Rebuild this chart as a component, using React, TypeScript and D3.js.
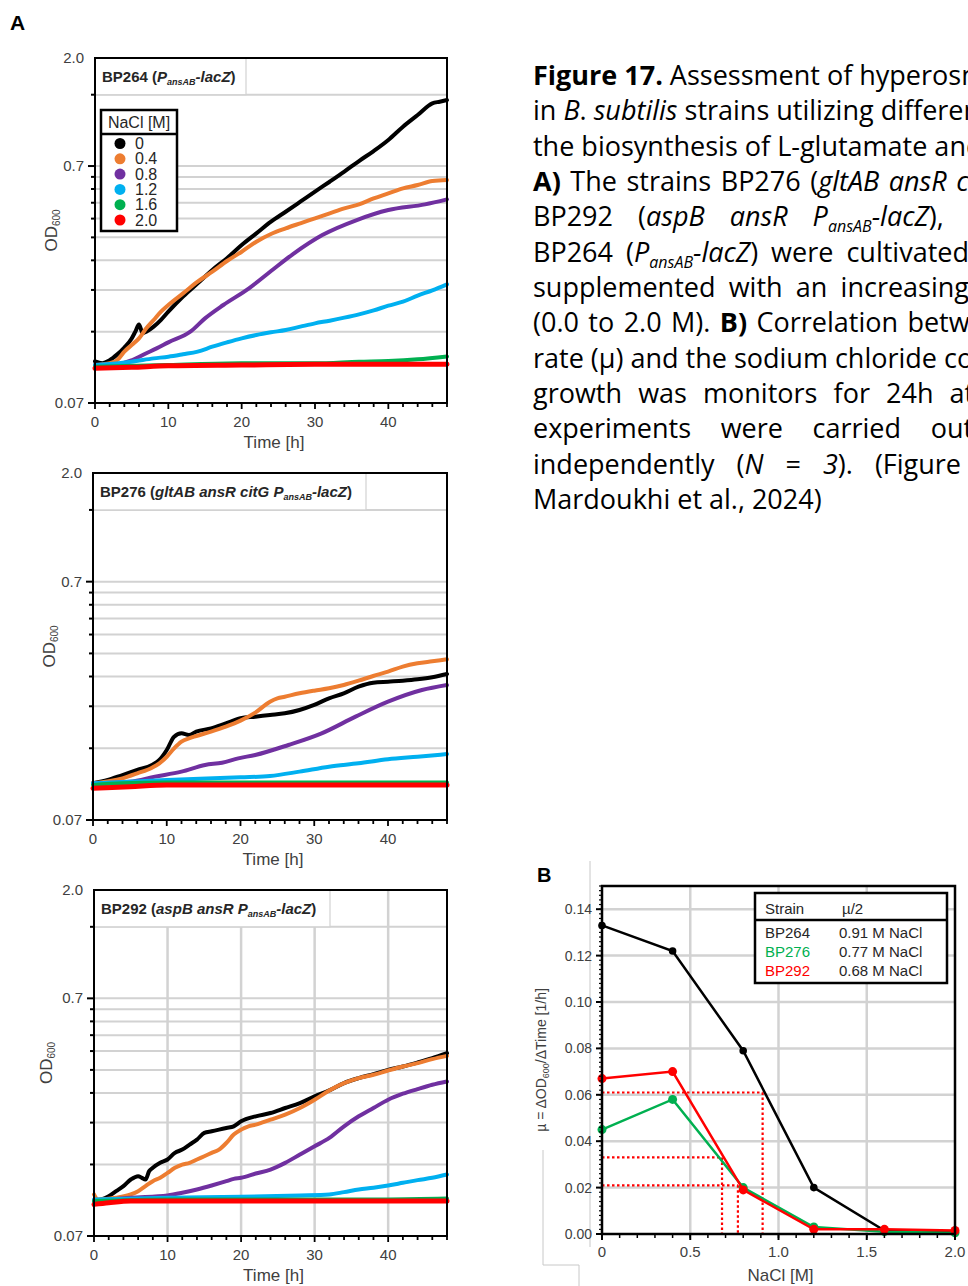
import React from 'react';
import * as d3 from 'd3';

// ---------- shared axis values ----------
const TIME_TICKS = [0, 10, 20, 30, 40];
const OD_LABELS = [0.07, 0.7, 2.0];
const OD_GRID = [0.14, 0.21, 0.28, 0.35, 0.42, 0.49, 0.56, 0.63, 0.7, 1.4];
const NACL_LEVELS = ['0', '0.4', '0.8', '1.2', '1.6', '2.0'];
const SERIES_COLORS = ['#000000', '#ED7D31', '#7030A0', '#00B0F0', '#00B050', '#FF0000'];

// ---------- BP264 growth curves: [time h, OD600] ----------
const bp264_00 = [[0, 0.105], [1, 0.103], [2, 0.106], [3, 0.112], [4, 0.12], [5, 0.131], [5.5, 0.14], [6, 0.15], [6.5, 0.138], [7, 0.14], [8, 0.147], [9, 0.157], [10, 0.17], [12, 0.197], [14, 0.224], [16, 0.255], [18, 0.286], [20, 0.325], [22, 0.364], [24, 0.408], [26, 0.449], [28, 0.495], [30, 0.546], [32, 0.601], [34, 0.663], [36, 0.735], [38, 0.81], [40, 0.902], [42, 1.026], [44, 1.149], [46, 1.287], [47, 1.308], [48, 1.329]];
const bp264_04 = [[0, 0.1012], [2, 0.103], [3, 0.106], [4, 0.1153], [5, 0.123], [6, 0.1312], [7, 0.1446], [8, 0.1568], [9, 0.17], [10, 0.1814], [12, 0.2031], [14, 0.2276], [16, 0.2507], [18, 0.2782], [20, 0.3044], [22, 0.3356], [24, 0.3616], [26, 0.382], [28, 0.4012], [30, 0.4211], [32, 0.4421], [34, 0.4641], [36, 0.4823], [38, 0.5113], [40, 0.5367], [42, 0.5635], [44, 0.5819], [46, 0.6052], [48, 0.611]];
const bp264_08 = [[0, 0.1012], [3, 0.1019], [5, 0.106], [7, 0.1135], [8.4, 0.119], [10, 0.1262], [13, 0.14], [15, 0.1593], [17.5, 0.1814], [21, 0.2133], [24, 0.2524], [27, 0.2977], [31, 0.3581], [35.7, 0.4143], [40, 0.4565], [45, 0.4823], [48, 0.5063]];
const bp264_12 = [[0, 0.1012], [5, 0.1046], [8, 0.108], [10, 0.1098], [12, 0.1124], [14, 0.1153], [16, 0.121], [18, 0.1262], [20, 0.1312], [22, 0.1355], [24, 0.1391], [26, 0.1423], [28, 0.147], [30, 0.1518], [32, 0.1558], [34, 0.1604], [36, 0.1657], [38, 0.1722], [40, 0.1802], [42, 0.1874], [44, 0.1987], [46, 0.2092], [48, 0.2218]];
const bp264_16 = [[0, 0.0996], [10, 0.1012], [20, 0.103], [30, 0.103], [36, 0.1046], [40, 0.1053], [44, 0.107], [48, 0.11]];
const bp264_20 = [[0, 0.098], [5, 0.099], [10, 0.1005], [20, 0.1012], [30, 0.1019], [40, 0.1019], [48, 0.102]];

// ---------- BP276 growth curves ----------
const bp276_00 = [[0, 0.0998], [2, 0.103], [4, 0.1081], [6, 0.1135], [8, 0.1191], [9, 0.125], [10, 0.1376], [11, 0.1566], [12, 0.1617], [13, 0.1591], [14, 0.1644], [16, 0.1697], [18, 0.1781], [20, 0.187], [22, 0.19], [24, 0.1931], [26, 0.1962], [28, 0.2026], [30, 0.2127], [32, 0.2268], [34, 0.238], [36, 0.2538], [38, 0.2638], [40, 0.2664], [42, 0.2689], [44, 0.2724], [46, 0.2778], [48, 0.2868]];
const bp276_04 = [[0, 0.0998], [4, 0.1047], [6, 0.1099], [8, 0.116], [9, 0.121], [10, 0.129], [11, 0.1399], [12, 0.1492], [13, 0.1541], [14, 0.1576], [16, 0.1644], [18, 0.1725], [20, 0.1828], [22, 0.1975], [24, 0.2196], [25, 0.2268], [26, 0.2304], [28, 0.238], [30, 0.2442], [32, 0.2498], [34, 0.258], [36, 0.2689], [38, 0.2813], [40, 0.2934], [42, 0.308], [44, 0.318], [46, 0.3242], [48, 0.3305]];
const bp276_08 = [[0, 0.0998], [5, 0.1014], [8.4, 0.1064], [12, 0.1117], [15.2, 0.1191], [17.5, 0.1218], [19.7, 0.127], [22, 0.1312], [26.5, 0.1445], [31, 0.1617], [35.6, 0.19], [40, 0.2196], [44.6, 0.2458], [48, 0.258]];
const bp276_12 = [[0, 0.0998], [10, 0.103], [20, 0.1057], [24, 0.1071], [28, 0.1117], [32, 0.1172], [36, 0.121], [40, 0.1258], [44, 0.129], [48, 0.1324]];
const bp276_16 = [[0, 0.0982], [4, 0.0998], [10, 0.1005], [20, 0.1006], [30, 0.1006], [40, 0.1006], [48, 0.1006]];
const bp276_20 = [[0, 0.0951], [5, 0.0966], [10, 0.0982], [20, 0.0982], [30, 0.0982], [40, 0.0982], [48, 0.0982]];

// ---------- BP292 growth curves ----------
const bp292_00 = [[0, 0.0982], [1, 0.0998], [2, 0.103], [3, 0.1081], [4, 0.1135], [5, 0.121], [6, 0.125], [6.5, 0.123], [7, 0.121], [7.5, 0.1312], [8, 0.1355], [9, 0.1422], [10, 0.1469], [11, 0.1566], [12, 0.1617], [13, 0.1697], [14, 0.1781], [15, 0.19], [16, 0.1931], [17, 0.1962], [18, 0.1994], [19, 0.2026], [20, 0.2127], [22, 0.2232], [24, 0.2304], [26, 0.2419], [28, 0.2538], [30, 0.2708], [32, 0.2868], [34, 0.308], [36, 0.3232], [38, 0.3359], [40, 0.3502], [42, 0.3617], [44, 0.376], [46, 0.3921], [48, 0.4115]];
const bp292_04 = [[0, 0.1047], [0.5, 0.0998], [3, 0.1014], [5, 0.1047], [6, 0.1081], [7, 0.1135], [8, 0.1191], [9, 0.123], [10, 0.129], [11, 0.1355], [12, 0.1399], [13, 0.1422], [14, 0.1469], [15, 0.1516], [16, 0.1566], [17, 0.1617], [18, 0.1725], [19, 0.187], [20, 0.1962], [21, 0.2026], [22, 0.2059], [24, 0.2161], [26, 0.2268], [28, 0.2419], [30, 0.2622], [32, 0.2868], [34, 0.308], [36, 0.3232], [38, 0.3338], [40, 0.348], [42, 0.3617], [44, 0.3736], [46, 0.3884], [48, 0.401]];
const bp292_08 = [[0, 0.0982], [5, 0.1014], [10, 0.1037], [12, 0.1064], [14, 0.1099], [16, 0.1142], [18, 0.1191], [19, 0.1218], [20, 0.123], [22, 0.1282], [24, 0.1333], [26, 0.1422], [28, 0.1541], [30, 0.167], [32, 0.181], [34, 0.2026], [36, 0.2232], [38, 0.2419], [40, 0.2622], [42, 0.2778], [44, 0.2906], [46, 0.303], [48, 0.3129]];
const bp292_12 = [[0, 0.0998], [10, 0.1014], [20, 0.1024], [28, 0.1037], [32, 0.1047], [34, 0.1071], [36, 0.1099], [38, 0.1117], [40, 0.1142], [42, 0.1172], [44, 0.1203], [46, 0.123], [48, 0.127]];
const bp292_16 = [[0, 0.0982], [10, 0.0998], [20, 0.0998], [30, 0.0998], [40, 0.0998], [48, 0.1006]];
const bp292_20 = [[0, 0.0951], [2, 0.0966], [5, 0.0982], [10, 0.0982], [20, 0.0982], [30, 0.0982], [40, 0.0982], [48, 0.0982]];

// ---------- growth rate vs NaCl ----------
const NACL_CONC = [0, 0.4, 0.8, 1.2, 1.6, 2.0];
const MU_BP264 = [0.133, 0.122, 0.079, 0.02, 0.0015, 0.001];
const MU_BP276 = [0.045, 0.058, 0.02, 0.003, 0.001, 0.0005];
const MU_BP292 = [0.067, 0.07, 0.019, 0.002, 0.002, 0.0015];
const HALF_STRAINS = ['BP264', 'BP276', 'BP292'];
const HALF_NACL = [0.91, 0.77, 0.68];
const HALF_MU = [0.061, 0.021, 0.033];
const STRAIN_COLORS = ['#262626', '#00B050', '#FF0000'];
const MU_TICKS = [0, 0.02, 0.04, 0.06, 0.08, 0.1, 0.12, 0.14];
const NACL_TICKS = [0, 0.5, 1.0, 1.5, 2.0];

type Seg = { t: string; b?: boolean; i?: boolean; sub?: boolean };

const CAPTION: { segs: Seg[]; ws?: number }[] = [
  { segs: [{ t: 'Figure 17.', b: true }, { t: ' Assessment of hyperosmotic' }] },
  { segs: [{ t: 'in ' }, { t: 'B', i: true }, { t: '. ' }, { t: 'subtilis', i: true }, { t: ' strains utilizing different' }] },
  { segs: [{ t: 'the biosynthesis of L-glutamate and' }] },
  { segs: [{ t: 'A)', b: true }, { t: ' The strains BP276 (' }, { t: 'gltAB ansR citG', i: true }], ws: 2.5 },
  { segs: [{ t: 'BP292 (' }, { t: 'aspB ansR P', i: true }, { t: 'ansAB', i: true, sub: true }, { t: '-lacZ', i: true }, { t: '),' }], ws: 18 },
  { segs: [{ t: 'BP264 (' }, { t: 'P', i: true }, { t: 'ansAB', i: true, sub: true }, { t: '-lacZ', i: true }, { t: ') were cultivated' }], ws: 6 },
  { segs: [{ t: 'supplemented with an increasing' }], ws: 6.2 },
  { segs: [{ t: '(0.0 to 2.0 M). ' }, { t: 'B)', b: true }, { t: ' Correlation between' }], ws: 2.4 },
  { segs: [{ t: 'rate (µ) and the sodium chloride concentration' }] },
  { segs: [{ t: 'growth was monitors for 24h at' }], ws: 9.1 },
  { segs: [{ t: 'experiments were carried out' }], ws: 22.6 },
  { segs: [{ t: 'independently (' }, { t: 'N', i: true }, { t: ' = ' }, { t: '3', i: true }, { t: '). (Figure' }], ws: 15 },
  { segs: [{ t: 'Mardoukhi et al., 2024)' }] },
];

const CHART_FONT = "'Liberation Sans', Arial, sans-serif";
const TEXT_GRAY = '#262626';
const GRID = '#d2d2d2';

function RichText({ segs, subSize, subShift }: { segs: Seg[]; subSize: number; subShift: number }) {
  let prevSub = false;
  return (
    <>
      {segs.map((s, k) => {
        let dy = 0;
        if (s.sub && !prevSub) dy = subShift;
        if (!s.sub && prevSub) dy = -subShift;
        prevSub = !!s.sub;
        return (
          <tspan
            key={k}
            dy={dy || undefined}
            fontWeight={s.b ? 700 : undefined}
            fontStyle={s.i ? 'italic' : undefined}
            fontSize={s.sub ? subSize : undefined}
          >
            {s.t}
          </tspan>
        );
      })}
    </>
  );
}

type Box = { x0: number; x1: number; y0: number; y1: number };

function GrowthPanel({
  box, series, title, titleW, vGrid, legend, yLabelX,
}: {
  box: Box; series: number[][][]; title: Seg[]; titleW: number; vGrid?: boolean; legend?: boolean; yLabelX: number;
}) {
  const { x0, x1, y0, y1 } = box;
  const xs = d3.scaleLinear().domain([0, 48]).range([x0, x1]);
  const ys = d3.scaleLog().domain([0.07, 2.0]).range([y1, y0]);
  const line = d3
    .line<number[]>()
    .x((d) => xs(d[0]))
    .y((d) => ys(d[1]))
    .curve(d3.curveMonotoneX);
  const minorT = d3.range(0, 49, 2);
  const midY = (y0 + y1) / 2;

  return (
    <g fontFamily={CHART_FONT}>
      {OD_GRID.map((v) => (
        <line key={'h' + v} x1={x0} x2={x1} y1={ys(v)} y2={ys(v)} stroke={GRID} strokeWidth={2} />
      ))}
      {vGrid &&
        TIME_TICKS.filter((t) => t > 0).map((t) => (
          <line key={'v' + t} x1={xs(t)} x2={xs(t)} y1={y0} y2={y1} stroke={GRID} strokeWidth={2.5} />
        ))}

      {/* strain title box */}
      <rect x={x0} y={y0} width={titleW} height={ys(1.4) - y0} fill="#fff" stroke={GRID} strokeWidth={1.2} />
      <text x={x0 + 7} y={y0 + 24} fontSize={15} fontWeight={700} fill={TEXT_GRAY}>
        <RichText segs={title} subSize={9} subShift={3} />
      </text>

      {series.map((s, i) => (
        <path
          key={'s' + i}
          d={line(s as any) || ''}
          fill="none"
          stroke={SERIES_COLORS[i]}
          strokeWidth={i === 5 ? 5 : 4}
          strokeLinejoin="round"
          strokeLinecap="round"
        />
      ))}

      {legend && (
        <g>
          <rect x={x0 + 6} y={y0 + 52} width={76} height={121} fill="#fff" stroke="#000" strokeWidth={2.5} />
          <text x={x0 + 44} y={y0 + 70} textAnchor="middle" fontSize={16} fill={TEXT_GRAY}>
            NaCl [M]
          </text>
          <line x1={x0 + 6} x2={x0 + 82} y1={y0 + 76} y2={y0 + 76} stroke="#000" strokeWidth={2.5} />
          {NACL_LEVELS.map((lab, i) => (
            <g key={lab}>
              <circle cx={x0 + 25} cy={y0 + 85.5 + i * 15.3} r={5.5} fill={SERIES_COLORS[i]} />
              <text x={x0 + 40} y={y0 + 91 + i * 15.3} fontSize={16} fill={TEXT_GRAY}>
                {lab}
              </text>
            </g>
          ))}
        </g>
      )}

      {/* frame */}
      <rect x={x0} y={y0} width={x1 - x0} height={y1 - y0} fill="none" stroke="#000" strokeWidth={2} />

      {/* y ticks */}
      {OD_GRID.filter((v) => v !== 0.7).map((v) => (
        <line key={'yt' + v} x1={x0 - 4} x2={x0} y1={ys(v)} y2={ys(v)} stroke="#000" strokeWidth={2} />
      ))}
      {[0.07, 0.7].map((v) => (
        <line key={'yM' + v} x1={x0 - 7} x2={x0} y1={ys(v)} y2={ys(v)} stroke="#000" strokeWidth={2} />
      ))}
      {OD_LABELS.map((v) => (
        <text key={'yl' + v} x={x0 - 11} y={ys(v) + 5} textAnchor="end" fontSize={15} fill="#404040">
          {v === 2 ? '2.0' : String(v)}
        </text>
      ))}

      {/* x ticks */}
      {minorT.map((t) => (
        <line
          key={'xt' + t}
          x1={xs(t)}
          x2={xs(t)}
          y1={y1}
          y2={y1 + (t % 10 === 0 ? 6 : 4)}
          stroke="#000"
          strokeWidth={1.8}
        />
      ))}
      {TIME_TICKS.map((t) => (
        <text key={'xl' + t} x={xs(t)} y={y1 + 24} textAnchor="middle" fontSize={15} fill="#404040">
          {t}
        </text>
      ))}
      <text x={(x0 + x1) / 2 + 3} y={y1 + 45} textAnchor="middle" fontSize={17} fill="#404040">
        Time [h]
      </text>
      <text
        transform={`translate(${yLabelX},${midY}) rotate(-90)`}
        textAnchor="middle"
        fontSize={17}
        fill="#404040"
      >
        OD<tspan fontSize={10} dy={3}>600</tspan>
      </text>
    </g>
  );
}

function RatePanel() {
  const x0 = 602, x1 = 955, y0 = 886, y1 = 1234;
  const xs = d3.scaleLinear().domain([0, 2]).range([x0, x1]);
  const ys = d3.scaleLinear().domain([0, 0.15]).range([y1, y0]);
  const line = d3
    .line<number>()
    .x((_, i) => xs(NACL_CONC[i]))
    .y((d) => ys(d));
  const strains = [
    { vals: MU_BP264, color: '#000000', r: 3.8 },
    { vals: MU_BP276, color: '#00B050', r: 4.5 },
    { vals: MU_BP292, color: '#FF0000', r: 4.5 },
  ];
  const minorY = d3.range(0, 0.1501, 0.002);
  const minorX = d3.range(0, 2.001, 0.1);

  return (
    <g fontFamily={CHART_FONT}>
      {/* surrounding figure frame */}
      <g stroke="#c8c8c8" strokeWidth={1} fill="none">
        <line x1={590} x2={590} y1={861} y2={1247} />
        <line x1={543} x2={543} y1={1150} y2={1265} />
        <line x1={543} x2={579} y1={1265} y2={1265} />
        <line x1={579} x2={579} y1={1265} y2={1286} />
      </g>
      <text x={537} y={882} fontSize={20} fontWeight={700} fill="#000">B</text>

      {MU_TICKS.filter((v) => v > 0).map((v) => (
        <line key={'gh' + v} x1={x0} x2={x1} y1={ys(v)} y2={ys(v)} stroke={GRID} strokeWidth={2.5} />
      ))}
      {NACL_TICKS.filter((v) => v > 0 && v < 2).map((v) => (
        <line key={'gv' + v} x1={xs(v)} x2={xs(v)} y1={y0} y2={y1} stroke={GRID} strokeWidth={2.5} />
      ))}

      {/* half-maximal growth markers */}
      <g stroke="#FF0000" strokeWidth={2.2} strokeDasharray="2.5 2.5" fill="none">
        {HALF_NACL.map((c, i) => (
          <g key={'half' + i}>
            <line x1={xs(0)} x2={xs(c)} y1={ys(HALF_MU[i])} y2={ys(HALF_MU[i])} />
            <line x1={xs(c)} x2={xs(c)} y1={ys(HALF_MU[i])} y2={ys(0)} />
          </g>
        ))}
      </g>

      {strains.map((s, k) => (
        <g key={'st' + k}>
          <path d={line(s.vals) || ''} fill="none" stroke={s.color} strokeWidth={2.5} />
          {s.vals.map((v, i) => (
            <circle key={i} cx={xs(NACL_CONC[i])} cy={ys(v)} r={s.r} fill={s.color} />
          ))}
        </g>
      ))}

      {/* legend table */}
      <rect x={755} y={893} width={192} height={90} fill="#fff" stroke="#000" strokeWidth={2.5} />
      <text x={765} y={914} fontSize={15} fill={TEXT_GRAY}>Strain</text>
      <text x={842} y={914} fontSize={15} fill={TEXT_GRAY}>µ/2</text>
      <line x1={755} x2={947} y1={920} y2={920} stroke="#000" strokeWidth={2.5} />
      {HALF_STRAINS.map((name, i) => (
        <g key={name}>
          <text x={765} y={938 + i * 19} fontSize={15} fill={STRAIN_COLORS[i]}>{name}</text>
          <text x={839} y={938 + i * 19} fontSize={15} fill={TEXT_GRAY}>
            {HALF_NACL[i].toFixed(2)} M NaCl
          </text>
        </g>
      ))}

      <rect x={x0} y={y0} width={x1 - x0} height={y1 - y0} fill="none" stroke="#000" strokeWidth={2.5} />

      {minorY.map((v, i) => (
        <line key={'my' + i} x1={x0 - 3} x2={x0} y1={ys(v)} y2={ys(v)} stroke="#000" strokeWidth={1.2} />
      ))}
      {MU_TICKS.map((v) => (
        <g key={'yt' + v}>
          <line x1={x0 - 6} x2={x0} y1={ys(v)} y2={ys(v)} stroke="#000" strokeWidth={2} />
          <text x={x0 - 10} y={ys(v) + 5} textAnchor="end" fontSize={14} fill="#404040">
            {v.toFixed(2)}
          </text>
        </g>
      ))}
      {minorX.map((v, i) => (
        <line key={'mx' + i} x1={xs(v)} x2={xs(v)} y1={y1} y2={y1 + 4} stroke="#000" strokeWidth={1.5} />
      ))}
      {NACL_TICKS.map((v) => (
        <g key={'xt' + v}>
          <line x1={xs(v)} x2={xs(v)} y1={y1} y2={y1 + 6} stroke="#000" strokeWidth={2} />
          <text x={xs(v)} y={y1 + 23} textAnchor="middle" fontSize={15} fill="#404040">
            {v === 0 ? '0' : v.toFixed(1)}
          </text>
        </g>
      ))}
      <text x={(x0 + x1) / 2 + 2} y={1281} textAnchor="middle" fontSize={17} fill="#404040">
        NaCl [M]
      </text>
      <text transform="translate(546,1060) rotate(-90)" textAnchor="middle" fontSize={14} fill="#404040">
        µ = ΔOD<tspan fontSize={9} dy={3}>600</tspan>
        <tspan dy={-3}>/ΔTime [1/h]</tspan>
      </text>
    </g>
  );
}

export default function App() {
  const panels = [
    {
      box: { x0: 95, x1: 447, y0: 58, y1: 403 },
      series: [bp264_00, bp264_04, bp264_08, bp264_12, bp264_16, bp264_20],
      title: [{ t: 'BP264 (' }, { t: 'P', i: true }, { t: 'ansAB', i: true, sub: true }, { t: '-lacZ', i: true }, { t: ')' }] as Seg[],
      titleW: 151,
      legend: true,
      yLabelX: 57,
    },
    {
      box: { x0: 93, x1: 447, y0: 473, y1: 820 },
      series: [bp276_00, bp276_04, bp276_08, bp276_12, bp276_16, bp276_20],
      title: [{ t: 'BP276 (' }, { t: 'gltAB ansR citG P', i: true }, { t: 'ansAB', i: true, sub: true }, { t: '-lacZ', i: true }, { t: ')' }] as Seg[],
      titleW: 273,
      yLabelX: 55,
    },
    {
      box: { x0: 94, x1: 447, y0: 890, y1: 1236 },
      series: [bp292_00, bp292_04, bp292_08, bp292_12, bp292_16, bp292_20],
      title: [{ t: 'BP292 (' }, { t: 'aspB ansR P', i: true }, { t: 'ansAB', i: true, sub: true }, { t: '-lacZ', i: true }, { t: ')' }] as Seg[],
      titleW: 236,
      vGrid: true,
      yLabelX: 52,
    },
  ];

  return (
    <svg
      width={968}
      height={1286}
      style={{ position: 'absolute', left: 0, top: 0, background: '#fff' }}
    >
      <rect x={0} y={0} width={968} height={1286} fill="#fff" />
      <text x={10} y={30} fontFamily={CHART_FONT} fontSize={21} fontWeight={700} fill="#000">A</text>

      {panels.map((p, i) => (
        <GrowthPanel
          key={i}
          box={p.box}
          series={p.series}
          title={p.title}
          titleW={p.titleW}
          vGrid={p.vGrid}
          legend={p.legend}
          yLabelX={p.yLabelX}
        />
      ))}

      <RatePanel />

      <g fontFamily="'Open Sans', sans-serif" fontSize={27} fill="#000">
        {CAPTION.map((ln, i) => (
          <text key={i} x={533} y={85 + i * 35.33} style={{ wordSpacing: ln.ws ? `${ln.ws}px` : undefined }}>
            <RichText segs={ln.segs} subSize={16} subShift={6} />
          </text>
        ))}
      </g>
    </svg>
  );
}
